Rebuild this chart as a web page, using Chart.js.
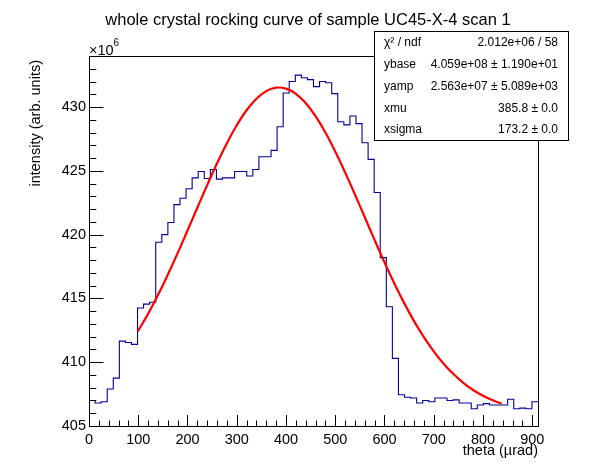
<!DOCTYPE html>
<html>
<head>
<meta charset="utf-8">
<script src="https://cdn.jsdelivr.net/npm/chart.js@4.4.1/dist/chart.umd.min.js"></script>
<style>
  html, body { margin: 0; padding: 0; background: #fff; }
  #wrap { position: relative; width: 598px; height: 474px; }
</style>
</head>
<body>
<div id="wrap"><canvas id="chart"></canvas></div>
<script>
// histogram: 74 bins of equal width starting at 0 (intensity in units of 1e6)
const binLow = 0;
const binWidth = 12.32;
const counts = [
  407.0, 406.8, 406.9, 407.9, 408.75, 411.65, 411.55, 411.4, 414.25, 414.55,
  414.7, 419.4, 420.0, 420.95, 422.35, 422.85, 423.6, 424.45, 424.95, 424.4,
  425.1, 424.35, 424.45, 424.45, 424.95, 424.95, 424.6, 425.1, 426.1, 426.1,
  426.6, 428.45, 431.1, 432.0, 432.5, 432.3, 432.15, 431.6, 432.0, 431.9,
  431.05, 428.85, 428.6, 429.3, 428.7, 427.2, 425.9, 423.3, 418.2, 414.35,
  410.3, 407.45, 407.25, 407.2, 406.8, 407.0, 406.9, 407.2, 407.2, 407.0,
  407.05, 406.8, 406.8, 406.35, 406.65, 406.75, 406.65, 406.65, 406.65, 407.1,
  406.35, 406.4, 406.35, 406.9
];

// fitted curve
const fitX = [99, 120, 140, 160, 180, 200, 220, 240, 260, 280, 300, 320, 340, 360,
  380, 400, 420, 440, 460, 480, 500, 520, 540, 560, 580, 600, 620, 640, 660, 680,
  700, 720, 740, 760, 780, 800, 820, 838];
const fitY = [412.41, 413.79, 415.26, 416.86, 418.55, 420.32, 422.11, 423.88, 425.59,
  427.17, 428.57, 429.75, 430.65, 431.25, 431.52, 431.44, 431.04, 430.31, 429.28,
  428.01, 426.52, 424.88, 423.14, 421.36, 419.57, 417.83, 416.17, 414.63, 413.22,
  411.96, 410.85, 409.88, 409.07, 408.38, 407.82, 407.37, 407.01, 406.75];

const xTicks = [0, 100, 200, 300, 400, 500, 600, 700, 800, 900];
const yTicks = [405, 410, 415, 420, 425, 430];

const statLabels = ['χ² / ndf', 'ybase', 'yamp', 'xmu', 'xsigma'];
const statValues = ['2.012e+06 / 58', '4.059e+08 ± 1.190e+01', '2.563e+07 ± 5.089e+03',
  '385.8 ± 0.0', '173.2 ± 0.0'];

const titleText = 'whole crystal rocking curve of sample UC45-X-4 scan 1';
const xTitle = 'theta (µrad)';
const yTitle = 'intensity (arb. units)';

const FONT = '"Liberation Sans", Arial, Helvetica, sans-serif';

const histPoints = counts.map((v, i) => ({ x: binLow + i * binWidth, y: v }));
histPoints.push({ x: binLow + counts.length * binWidth, y: counts[counts.length - 1] });
const fitPoints = fitX.map((x, i) => ({ x: x, y: fitY[i] }));

// frame, inward ticks, titles and the stats box, ROOT style
const decor = {
  id: 'decor',
  afterDatasetsDraw(chart) {
    const { ctx, chartArea: a, scales: { x, y } } = chart;
    ctx.save();
    ctx.strokeStyle = '#000';
    ctx.lineWidth = 1;
    ctx.strokeRect(a.left + 0.5, a.top + 0.5, a.right - a.left, a.bottom - a.top);
    ctx.beginPath();
    for (let v = 0; v <= x.max; v += 20) {
      const px = Math.round(x.getPixelForValue(v)) + 0.5;
      const len = v % 100 === 0 ? 11 : 5.5;
      ctx.moveTo(px, a.bottom);
      ctx.lineTo(px, a.bottom - len);
    }
    for (let v = 405; v <= y.max; v += 1) {
      const py = Math.round(y.getPixelForValue(v)) + 0.5;
      const len = v % 5 === 0 ? 14.5 : 7.3;
      ctx.moveTo(a.left, py);
      ctx.lineTo(a.left + len, py);
    }
    ctx.stroke();
    ctx.restore();
  },
  afterDraw(chart) {
    const { ctx, chartArea: a } = chart;
    ctx.save();
    ctx.fillStyle = '#000';

    ctx.font = '16.5px ' + FONT;
    ctx.textAlign = 'center';
    ctx.textBaseline = 'alphabetic';
    ctx.fillText(titleText, 308, 25);

    ctx.font = '14.5px ' + FONT;
    ctx.textAlign = 'right';
    ctx.fillText(xTitle, a.right, 455);

    ctx.save();
    ctx.translate(40, 60);
    ctx.rotate(-Math.PI / 2);
    ctx.textAlign = 'right';
    ctx.fillText(yTitle, 0, 0);
    ctx.restore();

    ctx.textAlign = 'left';
    ctx.font = '14.5px ' + FONT;
    ctx.fillText('×10', a.left, 55);
    const w = ctx.measureText('×10').width;
    ctx.font = '10px ' + FONT;
    ctx.fillText('6', a.left + w, 46);

    // stats box
    const bx = 374, by = 31, bw = 194, bh = 109;
    ctx.fillStyle = '#fff';
    ctx.fillRect(bx, by, bw, bh);
    ctx.strokeStyle = '#000';
    ctx.lineWidth = 1;
    ctx.strokeRect(bx + 0.5, by + 0.5, bw, bh);
    ctx.fillStyle = '#000';
    ctx.font = '12px ' + FONT;
    ctx.textBaseline = 'middle';
    const rowH = bh / statLabels.length;
    statLabels.forEach((lab, i) => {
      const cy = by + rowH * (i + 0.5) + 1;
      ctx.textAlign = 'left';
      ctx.fillText(lab, bx + 10, cy);
      ctx.textAlign = 'right';
      ctx.fillText(statValues[i], bx + bw - 10, cy);
    });
    ctx.restore();
  }
};

const ctx = document.getElementById('chart').getContext('2d');
new Chart(ctx, {
  type: 'line',
  data: {
    datasets: [
      {
        label: 'fit',
        data: fitPoints,
        borderColor: '#ff0000',
        borderWidth: 2.2,
        tension: 0.4,
        pointRadius: 0,
        fill: false
      },
      {
        label: 'scan 1',
        data: histPoints,
        borderColor: '#000099',
        borderWidth: 1.1,
        stepped: 'before',
        pointRadius: 0,
        fill: false
      }
    ]
  },
  options: {
    responsive: true,
    maintainAspectRatio: false,
    animation: false,
    layout: { padding: { left: 0, right: 60, top: 56, bottom: 0 } },
    plugins: {
      legend: { display: false },
      title: { display: false },
      tooltip: { enabled: false }
    },
    scales: {
      x: {
        type: 'linear',
        min: 0,
        max: binLow + counts.length * binWidth,
        afterBuildTicks: s => { s.ticks = xTicks.map(v => ({ value: v })); },
        afterFit: s => { s.height = 48; },
        grid: { display: false, drawTicks: false },
        border: { display: false },
        ticks: {
          font: { family: FONT, size: 14.5 },
          color: '#000',
          padding: 5,
          maxRotation: 0,
          autoSkip: false
        }
      },
      y: {
        min: 405,
        max: 434,
        afterBuildTicks: s => { s.ticks = yTicks.map(v => ({ value: v })); },
        afterFit: s => { s.width = 89; },
        grid: { display: false, drawTicks: false },
        border: { display: false },
        ticks: {
          font: { family: FONT, size: 14.5 },
          color: '#000',
          padding: 3,
          autoSkip: false
        }
      }
    }
  },
  plugins: [decor]
});
</script>
</body>
</html>
